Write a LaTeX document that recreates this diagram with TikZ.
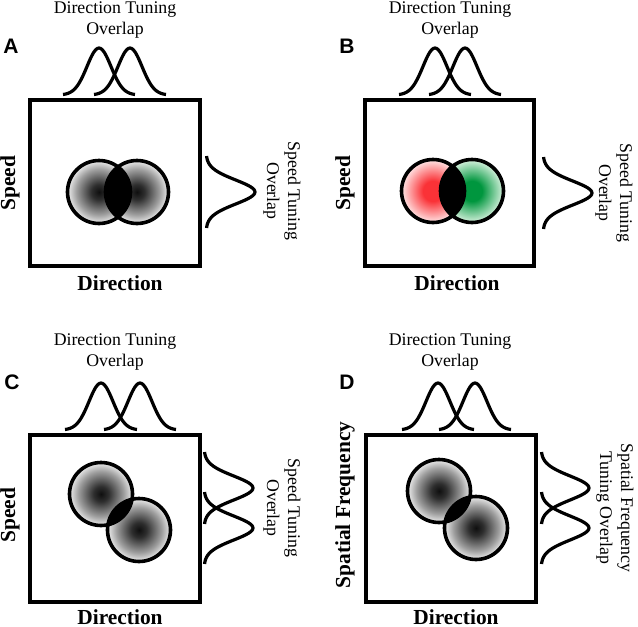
\documentclass[tikz,border=0pt]{standalone}
\usepackage{fontspec}
\setmainfont{Liberation Serif}
\newfontfamily\panelfont{Liberation Sans}
\definecolor{redcore}{RGB}{250,50,55}
\definecolor{rededge}{RGB}{255,230,230}
\definecolor{greencore}{RGB}{0,150,62}
\definecolor{greenedge}{RGB}{215,242,222}
\pgfdeclareradialshading{grayblob}{\pgfpoint{0bp}{0bp}}{color(0bp)=(black!94); color(6bp)=(black!82); color(18bp)=(black!38); color(25bp)=(black!7); color(50bp)=(black!7)}
\pgfdeclareradialshading{redblob}{\pgfpoint{0bp}{0bp}}{color(0bp)=(redcore); color(8bp)=(redcore); color(25bp)=(rededge); color(50bp)=(rededge)}
\pgfdeclareradialshading{greenblob}{\pgfpoint{0bp}{0bp}}{color(0bp)=(greencore); color(8bp)=(greencore); color(25bp)=(greenedge); color(50bp)=(greenedge)}
\tikzset{
  frame/.style={line width=2pt},
  tuning/.style={line width=1.6pt,line join=round},
  ring/.style={line width=1.8pt},
  tunelabel/.style={font=\fontsize{8.9}{10.5}\selectfont,align=center,inner sep=0pt},
  axislabel/.style={font=\bfseries\fontsize{10.7}{12}\selectfont,inner sep=0pt},
  paneltag/.style={font=\panelfont\bfseries\fontsize{10.5}{12}\selectfont,inner sep=0pt}
}

\begin{document}
\begin{tikzpicture}[x=0.5pt,y=-0.5pt]
  \useasboundingbox (0,0) rectangle (638,627);

  % A
  \begin{scope}[shift={(30,100)}]
    \draw[frame] (0,0) rectangle (170,166);
    \node[paneltag] (tagA) at (-19,-54) {A};
    \node[tunelabel] (dirtuneA) at (85,-80) {Direction Tuning\\Overlap};
    \node[tunelabel,rotate=-90] (spdtuneA) at (252,91) {Speed Tuning\\Overlap};
    \node[axislabel,rotate=90] (speedA) at (-20,83) {Speed};
    \node[axislabel] (directionA) at (90,183) {Direction};
    \foreach \m in {69,100}{
      \draw[tuning] plot[domain=-36:36,samples=41,smooth] ({\m+(\x)},{-5-47*exp(-(\x)^2/288)});
    }
    \draw[tuning] plot[domain=-36:36,samples=41,smooth] ({176+49*exp(-(\x)^2/288)},{92+(\x)});
    \coordinate (leftA) at (69,92);
    \coordinate (rightA) at (107,92);
    \shade[shading=grayblob] (leftA) circle [radius=15.75pt];
    \shade[shading=grayblob] (rightA) circle [radius=15.75pt];
    \begin{scope}
      \clip (leftA) circle [radius=15.75pt];
      \fill (rightA) circle [radius=15.75pt];
    \end{scope}
    \draw[ring] (leftA) circle [radius=15.75pt] (rightA) circle [radius=15.75pt];
  \end{scope}

  % B
  \begin{scope}[shift={(365,100)}]
    \draw[frame] (0,0) rectangle (169,166);
    \node[paneltag] (tagB) at (-18,-54) {B};
    \node[tunelabel] (dirtuneB) at (85,-80) {Direction Tuning\\Overlap};
    \node[tunelabel,rotate=-90] (spdtuneB) at (249,93) {Speed Tuning\\Overlap};
    \node[axislabel,rotate=90] (speedB) at (-20,83) {Speed};
    \node[axislabel] (directionB) at (92,183) {Direction};
    \foreach \m in {70,100}{
      \draw[tuning] plot[domain=-36:36,samples=41,smooth] ({\m+(\x)},{-5-47*exp(-(\x)^2/288)});
    }
    \draw[tuning] plot[domain=-36:36,samples=41,smooth] ({178+49*exp(-(\x)^2/288)},{93+(\x)});
    \coordinate (leftB) at (68,91);
    \coordinate (rightB) at (107,91);
    \shade[shading=redblob] (leftB) circle [radius=15.75pt];
    \shade[shading=greenblob] (rightB) circle [radius=15.75pt];
    \begin{scope}
      \clip (leftB) circle [radius=15.75pt];
      \fill (rightB) circle [radius=15.75pt];
    \end{scope}
    \draw[ring] (leftB) circle [radius=15.75pt] (rightB) circle [radius=15.75pt];
  \end{scope}

  % C
  \begin{scope}[shift={(30,435)}]
    \draw[frame] (0,0) rectangle (170,167);
    \node[paneltag] (tagC) at (-18,-53) {C};
    \node[tunelabel] (dirtuneC) at (85,-83) {Direction Tuning\\Overlap};
    \node[tunelabel,rotate=-90] (spdtuneC) at (252,73) {Speed Tuning\\Overlap};
    \node[axislabel,rotate=90] (speedC) at (-20,80) {Speed};
    \node[axislabel] (directionC) at (90,182) {Direction};
    \foreach \m in {71,110}{
      \draw[tuning] plot[domain=-36:36,samples=41,smooth] ({\m+(\x)},{-5-47*exp(-(\x)^2/288)});
    }
    \foreach \m in {53,93}{
      \draw[tuning] plot[domain=-36:36,samples=41,smooth] ({174+49*exp(-(\x)^2/288)},{\m+(\x)});
    }
    \coordinate (upperC) at (71,59);
    \coordinate (lowerC) at (109,95);
    \shade[shading=grayblob] (upperC) circle [radius=15.75pt];
    \shade[shading=grayblob] (lowerC) circle [radius=15.75pt];
    \begin{scope}
      \clip (upperC) circle [radius=15.75pt];
      \fill (lowerC) circle [radius=15.75pt];
    \end{scope}
    \draw[ring] (upperC) circle [radius=15.75pt] (lowerC) circle [radius=15.75pt];
  \end{scope}

  % D
  \begin{scope}[shift={(366,435)}]
    \draw[frame] (0,0) rectangle (170,167);
    \node[paneltag] (tagD) at (-19,-53) {D};
    \node[tunelabel] (dirtuneD) at (84,-83) {Direction Tuning\\Overlap};
    \node[tunelabel,rotate=-90] (sftuneD) at (249,73) {Spatial Frequency\\Tuning Overlap};
    \node[axislabel,rotate=90] (sfreqD) at (-21,70) {Spatial Frequency};
    \node[axislabel] (directionD) at (90,182) {Direction};
    \foreach \m in {72,109}{
      \draw[tuning] plot[domain=-36:36,samples=41,smooth] ({\m+(\x)},{-5-47*exp(-(\x)^2/288)});
    }
    \foreach \m in {53,93}{
      \draw[tuning] plot[domain=-36:36,samples=41,smooth] ({175+48*exp(-(\x)^2/288)},{\m+(\x)});
    }
    \coordinate (upperD) at (73,56);
    \coordinate (lowerD) at (110,93);
    \shade[shading=grayblob] (upperD) circle [radius=15.75pt];
    \shade[shading=grayblob] (lowerD) circle [radius=15.75pt];
    \begin{scope}
      \clip (upperD) circle [radius=15.75pt];
      \fill (lowerD) circle [radius=15.75pt];
    \end{scope}
    \draw[ring] (upperD) circle [radius=15.75pt] (lowerD) circle [radius=15.75pt];
  \end{scope}
\end{tikzpicture}
\end{document}
